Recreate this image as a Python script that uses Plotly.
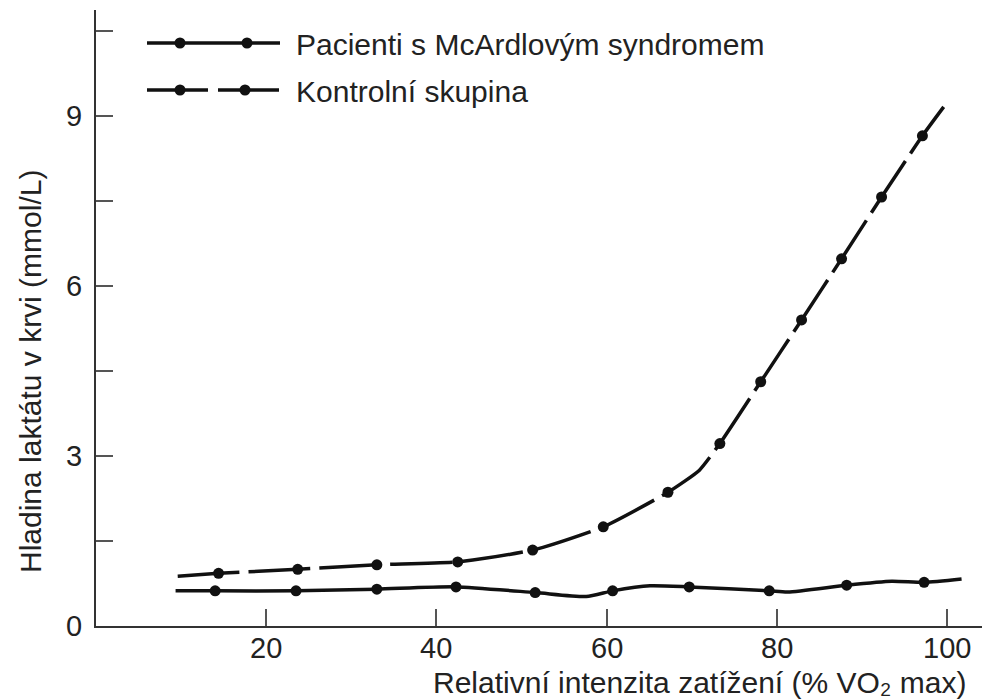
import plotly.graph_objects as go

# ---------------- data ----------------
mcardle_line_x = [9.35, 14.0, 23.5, 33.0, 42.3, 51.6, 57.6, 60.7, 65.1, 69.7, 79.1, 81.3, 88.2, 93.5, 97.3, 101.7]
mcardle_line_y = [0.62, 0.62, 0.62, 0.65, 0.69, 0.59, 0.52, 0.62, 0.71, 0.69, 0.62, 0.60, 0.72, 0.79, 0.77, 0.83]
mcardle_pts_x = [14.0, 23.5, 33.0, 42.3, 51.6, 60.7, 69.7, 79.1, 88.2, 97.3]
mcardle_pts_y = [0.62, 0.62, 0.65, 0.69, 0.59, 0.62, 0.69, 0.62, 0.72, 0.77]

control_line_x = [9.6, 14.4, 23.7, 33.0, 42.5, 51.3, 59.6, 67.2, 70.9, 73.3, 78.1, 82.9, 87.6, 92.3, 97.1, 99.6]
control_line_y = [0.88, 0.93, 1.00, 1.08, 1.13, 1.34, 1.75, 2.36, 2.75, 3.22, 4.31, 5.40, 6.48, 7.57, 8.65, 9.16]
control_pts_x = [14.4, 23.7, 33.0, 42.5, 51.3, 59.6, 67.2, 73.3, 78.1, 82.9, 87.6, 92.3, 97.1]
control_pts_y = [0.93, 1.00, 1.08, 1.13, 1.34, 1.75, 2.36, 3.22, 4.31, 5.40, 6.48, 7.57, 8.65]

series_names = ["Pacienti s McArdlovým syndromem", "Kontrolní skupina"]
y_tickvals = [0, 1.5, 3, 4.5, 6, 7.5, 9, 10.5]
y_ticktext = ["0", "", "3", "", "6", "", "9", ""]
x_tickvals = [20, 40, 60, 80, 100]
x_ticktext = ["20", "40", "60", "80", "100"]
x_title = "Relativní intenzita zatížení (% VO₂ max)"
y_title = "Hladina laktátu v krvi (mmol/L)"

# ---------------- layout constants ----------------
W, H = 982, 699
ML, MR, MT, MB = 96, 0, 10, 73
PW, PH = W - ML - MR, H - MT - MB
FONT = "Liberation Sans, Arial, sans-serif"
INK = "#111111"
TXT = "#222222"
FS = 30
DASH = "62px,9px"

def px_x(p):
    return (p - ML) / PW

def px_y(p):
    return (H - MB - p) / PH

fig = go.Figure()
fig.add_trace(go.Scatter(x=mcardle_line_x, y=mcardle_line_y, mode="lines",
                         line=dict(color=INK, width=3.5, shape="spline", smoothing=0.6),
                         showlegend=False, hoverinfo="skip"))
fig.add_trace(go.Scatter(x=mcardle_pts_x, y=mcardle_pts_y, mode="markers",
                         marker=dict(color=INK, size=11), name=series_names[0], showlegend=False))
fig.add_trace(go.Scatter(x=control_line_x, y=control_line_y, mode="lines",
                         line=dict(color=INK, width=3.5, shape="spline", smoothing=0.5, dash=DASH),
                         showlegend=False, hoverinfo="skip"))
fig.add_trace(go.Scatter(x=control_pts_x, y=control_pts_y, mode="markers",
                         marker=dict(color=INK, size=11), name=series_names[1], showlegend=False))

shapes = []
annotations = []
# custom legend
for i, (ypx, dash, mx) in enumerate([(43, "solid", (180, 247)), (90, "61px,10px", (180, 245))]):
    shapes.append(dict(type="line", xref="paper", yref="paper",
                       x0=px_x(147), x1=px_x(280), y0=px_y(ypx), y1=px_y(ypx),
                       line=dict(color=INK, width=3.5, dash=dash)))
    for m in mx:
        shapes.append(dict(type="circle", xref="paper", yref="paper",
                           x0=px_x(m - 5.5), x1=px_x(m + 5.5), y0=px_y(ypx + 5.5), y1=px_y(ypx - 5.5),
                           fillcolor=INK, line=dict(color=INK, width=0)))
    annotations.append(dict(text=series_names[i], xref="paper", yref="paper",
                            x=px_x(294), y=px_y(ypx + 2), xanchor="left", yanchor="middle",
                            showarrow=False, font=dict(family=FONT, size=FS, color=TXT)))

# x tick labels (placed just under the axis like the reference)
for v, t in zip(x_tickvals, x_ticktext):
    annotations.append(dict(text=t, xref="x", yref="paper", x=v, y=px_y(648),
                            xanchor="center", yanchor="middle", showarrow=False,
                            font=dict(family=FONT, size=29, color=TXT)))

annotations.append(dict(text=x_title, xref="paper", yref="paper", x=px_x(969), y=px_y(682),
                        xanchor="right", yanchor="middle", showarrow=False,
                        font=dict(family=FONT, size=FS, color=TXT)))
annotations.append(dict(text=y_title, xref="paper", yref="paper", x=px_x(30), y=px_y(372),
                        xanchor="center", yanchor="middle", textangle=-90, showarrow=False,
                        font=dict(family=FONT, size=FS, color=TXT)))

fig.update_layout(
    width=W, height=H,
    margin=dict(l=ML, r=MR, t=MT, b=MB),
    paper_bgcolor="white", plot_bgcolor="white",
    shapes=shapes, annotations=annotations, showlegend=False,
    font=dict(family=FONT, size=FS, color=TXT),
)
fig.update_xaxes(range=[0, 104.1], showgrid=False, zeroline=False,
                 showline=True, linecolor="#333", linewidth=2,
                 ticks="inside", ticklen=17, tickwidth=1.5, tickcolor="#555",
                 tickvals=x_tickvals, showticklabels=False)
fig.update_yaxes(range=[0, 10.87], showgrid=False, zeroline=False,
                 showline=True, linecolor="#333", linewidth=2,
                 ticks="inside", ticklen=17, tickwidth=1.5, tickcolor="#555",
                 tickvals=y_tickvals, ticktext=y_ticktext, ticklabelstandoff=6,
                 tickfont=dict(family=FONT, size=29, color=TXT))

fig.write_html("out.html")
